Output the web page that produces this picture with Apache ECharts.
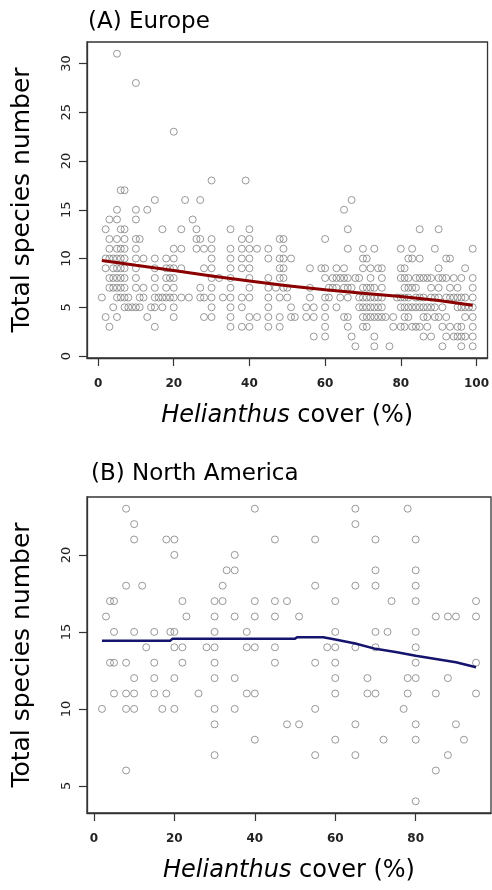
<!DOCTYPE html>
<html>
<head>
<meta charset="utf-8">
<script src="https://cdn.jsdelivr.net/npm/echarts@6/dist/echarts.min.js"></script>
<style>
  html, body { margin: 0; padding: 0; background: #fff; }
  #chart { width: 492px; height: 890px; }
</style>
</head>
<body>
<div id="chart"></div>
<script>
// (A) Europe: species number -> list of Helianthus cover values
const europeRows = [
  [31, [5]],
  [28, [10]],
  [23, [20]],
  [18, [30, 39]],
  [17, [6, 7]],
  [16, [15, 23, 27, 67]],
  [15, [5, 10, 13, 65]],
  [14, [3, 5, 10, 25]],
  [13, [2, 6, 7, 17, 22, 26, 35, 40, 66, 85, 90]],
  [12, [3, 5, 7, 10, 11, 26, 27, 30, 38, 40, 48, 49, 60]],
  [11, [3, 5, 6, 7, 10, 20, 22, 26, 28, 30, 35, 38, 40, 42, 45, 49, 66, 70, 73, 80, 83, 89, 99]],
  [10, [2, 3, 4, 5, 6, 7, 10, 12, 15, 18, 20, 30, 35, 38, 40, 45, 48, 49, 51, 70, 71, 82, 83, 85, 92, 93]],
  [9, [2, 4, 5, 6, 7, 10, 15, 18, 19, 20, 22, 28, 30, 35, 38, 40, 48, 49, 56, 59, 60, 63, 65, 70, 72, 74, 75, 80, 81, 90, 97]],
  [8, [3, 4, 5, 6, 7, 10, 15, 18, 19, 20, 30, 32, 35, 40, 45, 48, 49, 60, 62, 63, 64, 65, 66, 68, 69, 72, 75, 80, 81, 82, 84, 85, 86, 87, 88, 90, 91, 92, 94, 96, 99]],
  [7, [3, 4, 5, 6, 7, 10, 12, 15, 18, 20, 27, 30, 35, 40, 45, 47, 49, 50, 56, 61, 62, 63, 65, 66, 67, 70, 71, 72, 73, 75, 81, 82, 83, 84, 88, 90, 93, 95, 99]],
  [6, [1, 5, 6, 7, 8, 11, 12, 15, 16, 17, 18, 19, 20, 22, 24, 27, 28, 30, 33, 35, 38, 40, 45, 48, 50, 56, 60, 61, 64, 66, 69, 70, 71, 72, 73, 74, 75, 79, 80, 81, 82, 84, 85, 86, 88, 89, 90, 92, 93, 94, 95, 96, 97, 99]],
  [5, [4, 7, 8, 9, 10, 11, 14, 15, 17, 20, 30, 35, 38, 45, 51, 55, 57, 60, 63, 69, 70, 71, 72, 73, 74, 75, 80, 81, 82, 83, 84, 85, 86, 87, 88, 89, 91, 95, 96, 97, 98, 99]],
  [4, [2, 5, 13, 20, 28, 30, 35, 40, 42, 45, 48, 51, 52, 55, 57, 60, 65, 66, 70, 71, 72, 73, 74, 75, 76, 78, 81, 82, 86, 87, 89, 90, 92, 97, 99]],
  [3, [3, 15, 35, 38, 40, 45, 48, 60, 66, 70, 71, 78, 80, 81, 83, 84, 85, 87, 91, 93, 95, 96, 99]],
  [2, [57, 60, 67, 73, 86, 88, 92, 94, 95, 96, 97, 99]],
  [1, [68, 73, 77, 91, 96, 99]]
];
const europeFitX = [1, 10, 20, 30, 40, 50, 60, 70, 80, 90, 99];
const europeFitY = [9.8, 9.3, 8.78, 8.2, 7.7, 7.2, 6.8, 6.45, 6.1, 5.7, 5.2];

// (B) North America
const naCover = [8, 10, 10, 18, 20, 20, 8, 12, 4, 5, 3, 5, 10, 15, 19, 20, 13, 20, 22, 28,
  4, 5, 8, 15, 22, 10, 15, 20, 5, 8, 10, 15, 18, 26, 2, 8, 10, 17, 20, 8,
  22, 23, 30, 32, 32, 33, 35, 35, 30, 35, 30, 30, 30, 30, 30, 30, 30, 35, 35,
  38, 38, 40, 38, 40, 40, 40, 40, 40, 45, 45, 45, 45, 45, 48, 48, 51, 51,
  55, 55, 55, 55, 55, 58, 60, 60, 60, 60, 60, 60, 60, 65, 65, 65, 65, 65, 65,
  68, 68, 70, 70, 70, 70, 70, 70, 73, 72, 74, 77, 78, 78, 80, 78, 80, 80, 80, 80,
  80, 80, 80, 80, 80, 80, 85, 85, 85, 88, 90, 88, 88, 90, 92, 95, 95, 95, 95];
const naSpecies = [23, 22, 21, 21, 21, 20, 18, 18, 17, 17, 16, 15, 15, 15, 15, 15, 14, 14, 14, 14,
  13, 13, 13, 13, 13, 12, 12, 12, 11, 11, 11, 11, 11, 11, 10, 10, 10, 10, 10, 6,
  17, 16, 17, 17, 18, 19, 19, 20, 16, 16, 15, 13, 12, 10, 9, 7, 14, 12, 10,
  15, 14, 14, 11, 11, 23, 17, 16, 8, 21, 17, 16, 14, 13, 17, 9, 16, 9,
  21, 18, 13, 10, 7, 14, 17, 15, 14, 13, 12, 11, 8, 23, 22, 18, 14, 9, 7,
  12, 11, 11, 21, 19, 18, 15, 14, 15, 8, 17, 10, 23, 12, 12, 11, 21, 19, 18, 17,
  15, 14, 13, 9, 8, 4, 16, 11, 6, 16, 16, 12, 7, 9, 8, 17, 16, 13, 11];
const naFitX = [2, 19, 19.5, 50, 50.5, 57, 60, 65, 70, 75, 80, 85, 90, 95];
const naFitY = [14.43, 14.43, 14.55, 14.55, 14.65, 14.65, 14.5, 14.25, 13.9, 13.7, 13.45, 13.24, 13.03, 12.7];

const europeTicksX = [0, 20, 40, 60, 80, 100];
const europeTicksY = [0, 5, 10, 15, 20, 25, 30];
const naTicksX = [0, 20, 40, 60, 80];
const naTicksY = [5, 10, 15, 20];

const europePoints = [];
europeRows.forEach(([y, xs]) => xs.forEach((x) => europePoints.push([x, y])));
const naPoints = naCover.map((x, i) => [x, naSpecies[i]]);
const pair = (xs, ys) => xs.map((x, i) => [x, ys[i]]);

const FONT = 'DejaVu Sans';
const pointStyle = { color: 'rgba(0,0,0,0)', borderColor: '#7f7f7f', borderWidth: 1 };

function xAxisFor(gridIndex, min, max, ticks) {
  return {
    type: 'value', gridIndex, min, max,
    name: '{i|Helianthus} cover (%)',
    nameLocation: 'middle', nameGap: 46,
    nameTextStyle: {
      fontFamily: FONT, fontSize: 24, color: '#000',
      rich: { i: { fontFamily: FONT, fontSize: 24, fontStyle: 'italic', color: '#000' } }
    },
    axisLine: { show: true, onZero: false, lineStyle: { color: '#333', width: 1.3 } },
    splitLine: { show: false },
    axisTick: { show: true, length: 8, customValues: ticks, lineStyle: { color: '#333', width: 1.2 } },
    axisLabel: { customValues: ticks, margin: 20, fontFamily: FONT, fontSize: 12, fontWeight: 'bold', color: '#222' }
  };
}
function yAxisFor(gridIndex, min, max, ticks) {
  return {
    type: 'value', gridIndex, min, max,
    name: 'Total species number',
    nameLocation: 'middle', nameGap: 52, nameRotate: 90,
    nameTextStyle: { fontFamily: FONT, fontSize: 25, color: '#000' },
    axisLine: { show: true, onZero: false, lineStyle: { color: '#333', width: 1.3 } },
    splitLine: { show: false },
    axisTick: { show: true, length: 8, customValues: ticks, lineStyle: { color: '#333', width: 1.2 } },
    axisLabel: { customValues: ticks, rotate: 90, margin: 14, fontFamily: FONT, fontSize: 13, color: '#222' }
  };
}

const chart = echarts.init(document.getElementById('chart'));
chart.setOption({
  animation: false,
  backgroundColor: '#fff',
  title: [
    { text: '(A) Europe', left: 88, top: 11, padding: 0,
      textStyle: { fontFamily: FONT, fontSize: 23, fontWeight: 'normal', color: '#000' } },
    { text: '(B) North America', left: 91, top: 463, padding: 0,
      textStyle: { fontFamily: FONT, fontSize: 23, fontWeight: 'normal', color: '#000' } }
  ],
  grid: [
    { left: 87, top: 42, width: 404, height: 316, show: true, borderColor: '#333', borderWidth: 1.3, backgroundColor: '#fff' },
    { left: 87, top: 497, width: 404, height: 316, show: true, borderColor: '#333', borderWidth: 1.3, backgroundColor: '#fff' }
  ],
  xAxis: [
    xAxisFor(0, -2.92, 102.92, europeTicksX),
    xAxisFor(1, -1.72, 98.72, naTicksX)
  ],
  yAxis: [
    yAxisFor(0, -0.2, 32.2, europeTicksY),
    yAxisFor(1, 3.24, 23.76, naTicksY)
  ],
  series: [
    { type: 'scatter', xAxisIndex: 0, yAxisIndex: 0, data: europePoints,
      symbol: 'circle', symbolSize: 7, itemStyle: pointStyle },
    { type: 'line', xAxisIndex: 0, yAxisIndex: 0, data: pair(europeFitX, europeFitY),
      showSymbol: false, lineStyle: { color: '#8b0000', width: 3 } },
    { type: 'scatter', xAxisIndex: 1, yAxisIndex: 1, data: naPoints,
      symbol: 'circle', symbolSize: 7, itemStyle: pointStyle },
    { type: 'line', xAxisIndex: 1, yAxisIndex: 1, data: pair(naFitX, naFitY),
      showSymbol: false, lineStyle: { color: '#14146e', width: 2.5 } }
  ]
});
</script>
</body>
</html>
